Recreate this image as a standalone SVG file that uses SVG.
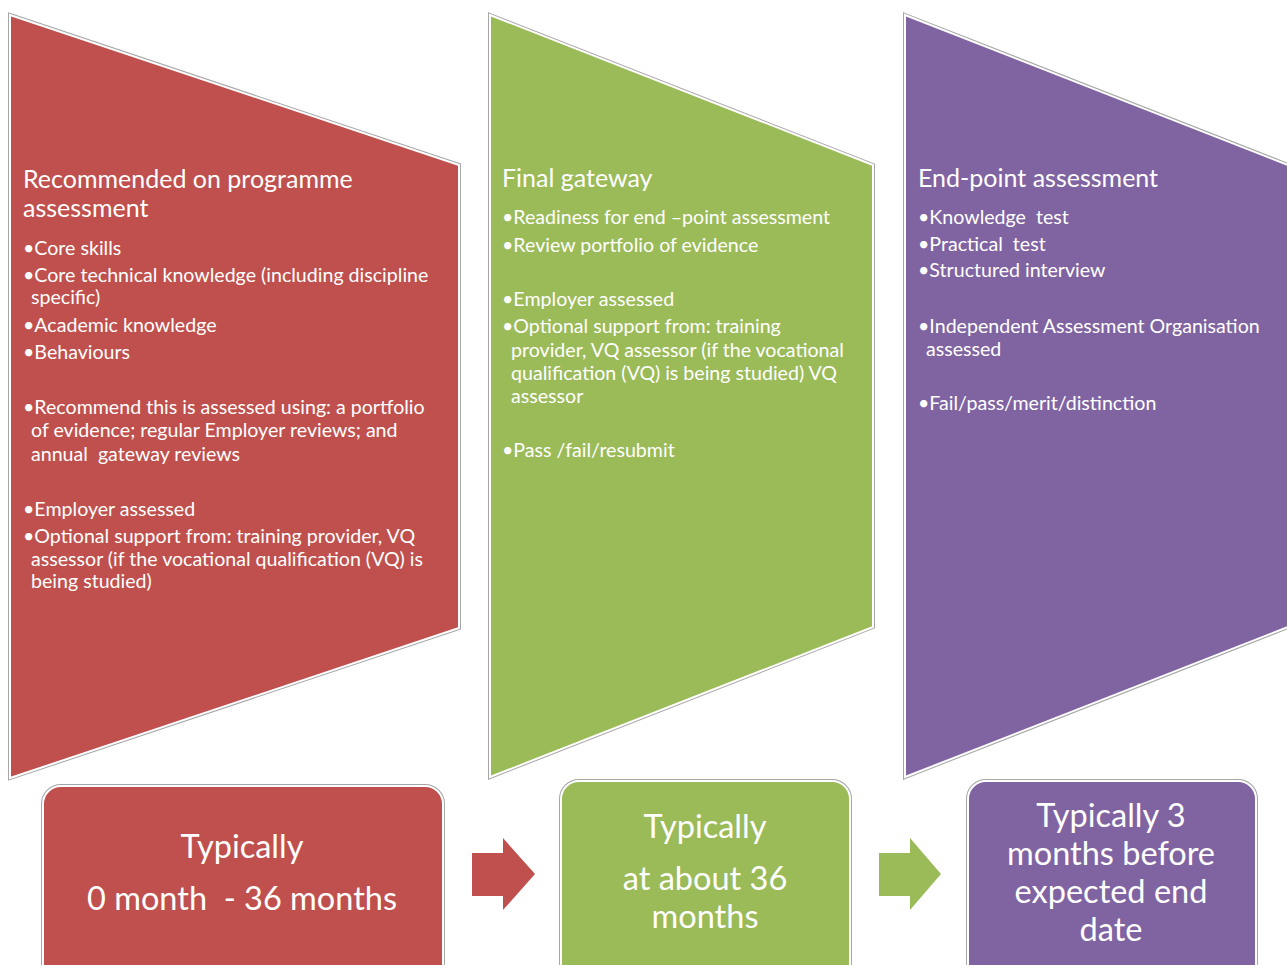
<svg xmlns="http://www.w3.org/2000/svg" width="1287" height="965" viewBox="0 0 1287 965">
<style>
.sh{fill:none;stroke:#a6a6a6;stroke-width:4;stroke-linejoin:miter}
.red{fill:#C0504D}.grn{fill:#9BBB59}.pur{fill:#8064A2}
.edge{stroke:#fff;stroke-width:2}
.t{font-family:Lato,"Open Sans",sans-serif;fill:#fff;white-space:pre}
.h{font-size:25px}
.b{font-size:19.6px}
.big{font-size:32.5px;text-anchor:middle}
</style>
<rect width="1287" height="965" fill="#fff"/>
<g id="stage1">
<polygon class="sh" points="10,15 459,165 459,628 10,778"/>
<polygon class="red edge" points="10,15 459,165 459,628 10,778"/>
<g class="t">
<text class="h" x="23" y="188">Recommended on programme</text>
<text class="h" x="23" y="217">assessment</text>
<g class="b">
<text x="23" y="255">•Core skills</text>
<text x="23" y="282">•Core technical knowledge (including discipline</text>
<text x="31" y="304">specific)</text>
<text x="23" y="332">•Academic knowledge</text>
<text x="23" y="359">•Behaviours</text>
<text x="23" y="414">•Recommend this is assessed using: a portfolio</text>
<text x="31" y="437">of evidence; regular Employer reviews; and</text>
<text x="31" y="461" xml:space="preserve">annual  gateway reviews</text>
<text x="23" y="516">•Employer assessed</text>
<text x="23" y="543">•Optional support from: training provider, VQ</text>
<text x="31" y="566">assessor (if the vocational qualification (VQ) is</text>
<text x="31" y="588">being studied)</text>
</g>
</g>
</g>
<g id="stage2">
<polygon class="sh" points="490,15 873,165 873,627 490,777"/>
<polygon class="grn edge" points="490,15 873,165 873,627 490,777"/>
<g class="t">
<text class="h" x="502" y="187">Final gateway</text>
<g class="b">
<text x="502" y="224">•Readiness for end –point assessment</text>
<text x="502" y="252">•Review portfolio of evidence</text>
<text x="502" y="306">•Employer assessed</text>
<text x="502" y="333">•Optional support from: training</text>
<text x="511" y="357">provider, VQ assessor (if the vocational</text>
<text x="511" y="380">qualification (VQ) is being studied) VQ</text>
<text x="511" y="403">assessor</text>
<text x="502" y="457">•Pass /fail/resubmit</text>
</g>
</g>
</g>
<g id="stage3">
<polygon class="sh" points="905,15 1288,165 1288,627 905,777"/>
<polygon class="pur edge" points="905,15 1288,165 1288,627 905,777"/>
<g class="t">
<text class="h" x="918" y="187">End-point assessment</text>
<g class="b">
<text x="918" y="224" xml:space="preserve">•Knowledge  test</text>
<text x="918" y="251" xml:space="preserve">•Practical  test</text>
<text x="918" y="277">•Structured interview</text>
<text x="918" y="333">•Independent Assessment Organisation</text>
<text x="926" y="356">assessed</text>
<text x="918" y="410">•Fail/pass/merit/distinction</text>
</g>
</g>
</g>
<g id="time1">
<rect class="sh" x="43" y="786" width="400" height="200" rx="18"/>
<rect class="red edge" x="43" y="786" width="400" height="200" rx="18"/>
<text class="t big" x="242" y="858">Typically</text>
<text class="t big" x="242" y="910" xml:space="preserve">0 month  - 36 months</text>
</g>
<g id="time2">
<rect class="sh" x="561" y="781" width="289" height="200" rx="18"/>
<rect class="grn edge" x="561" y="781" width="289" height="200" rx="18"/>
<text class="t big" x="705" y="838">Typically</text>
<text class="t big" x="705" y="890">at about 36</text>
<text class="t big" x="705" y="928">months</text>
</g>
<g id="time3">
<rect class="sh" x="968" y="781" width="288" height="200" rx="18"/>
<rect class="pur edge" x="968" y="781" width="288" height="200" rx="18"/>
<text class="t big" x="1111" y="827">Typically 3</text>
<text class="t big" x="1111" y="865">months before</text>
<text class="t big" x="1111" y="903">expected end</text>
<text class="t big" x="1111" y="941">date</text>
</g>
<g id="connectors">
<polygon class="red" points="472,853 503,853 503,838 535,874 503,910 503,896 472,896"/>
<polygon class="grn" points="879,853 910,853 910,838 941,874 910,910 910,896 879,896"/>
</g>
</svg>
